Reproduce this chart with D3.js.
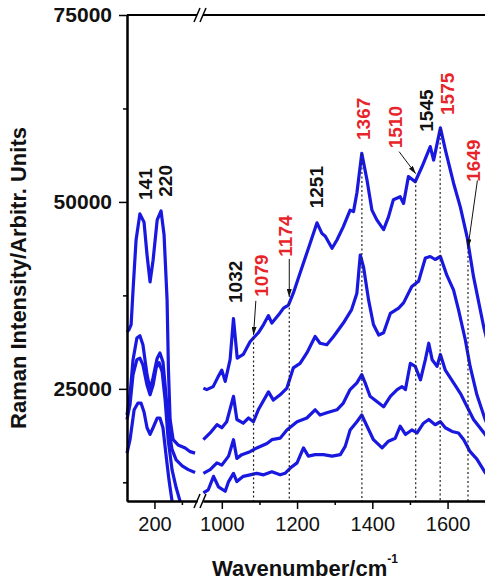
<!DOCTYPE html>
<html>
<head>
<meta charset="utf-8">
<script src="https://cdn.jsdelivr.net/npm/d3@7"></script>
<style>
  body { margin: 0; background: #fff; }
  svg text { font-family: Arial, "Liberation Sans", sans-serif; }
</style>
</head>
<body>
<svg id="main" width="485" height="582"></svg>
<script>
const width = 485
const height = 582

// low wavenumber panel, [wavenumber, intensity]
const lowA = [[100,32600],[107,32900],[115,33600],[122,38200],[133,44900],[147,48400],[162,47300],[173,42900],[184,39300],[195,42200],[210,47600],[224,48800],[235,45600],[246,36900],[251,27500],[257,20900],[268,18200],[286,17500],[312,17100],[330,16600],[348,16400]]
const lowB = [[100,21500],[111,24200],[122,28900],[136,31800],[147,32100],[158,30900],[173,26900],[184,24900],[195,26500],[210,29100],[220,29800],[231,28600],[242,24200],[253,19500],[264,16900],[279,15500],[301,14700],[323,14200],[348,13800]]
const lowC = [[100,20900],[111,22900],[122,26900],[136,28900],[147,29100],[158,28200],[173,25500],[184,24200],[195,25500],[206,27800],[217,28500],[228,27300],[239,23500],[250,18200],[264,14200],[279,11800],[293,10000],[308,8200]]
const lowD = [[100,16400],[111,18200],[126,22200],[140,23100],[151,23100],[162,21900],[173,19800],[184,18900],[195,19800],[210,21100],[220,21100],[231,19800],[242,16200],[253,12800],[264,10000],[275,7500]]

// high wavenumber panel
const highA = [[951,25100],[960,24900],[977,25300],[990,26600],[1000,27500],[1009,26000],[1022,28900],[1031,34400],[1041,29100],[1057,29600],[1075,31300],[1084,31800],[1097,32500],[1111,33600],[1124,34800],[1133,33800],[1151,34900],[1164,35800],[1177,36200],[1190,37800],[1208,40500],[1235,44500],[1253,47200],[1266,45800],[1275,45400],[1293,43800],[1306,44900],[1323,46700],[1341,48900],[1350,48700],[1359,51200],[1372,56500],[1386,52900],[1399,48900],[1412,47600],[1430,46300],[1443,48000],[1456,50300],[1474,50700],[1483,49800],[1496,53400],[1514,52700],[1532,54700],[1554,57400],[1563,55600],[1581,59900],[1594,57000],[1616,52500],[1634,49300],[1652,45300],[1669,40000],[1696,33300],[1720,28500]]
const highB = [[951,18200],[969,19100],[987,20200],[1000,19800],[1013,20600],[1031,24000],[1040,20900],[1057,20400],[1071,21100],[1084,20600],[1097,22200],[1124,24600],[1137,23500],[1155,24200],[1173,25100],[1190,27800],[1208,28400],[1226,29800],[1248,32000],[1261,31100],[1279,30900],[1297,32000],[1323,33800],[1345,35600],[1359,37800],[1368,42900],[1377,41200],[1390,36900],[1403,33600],[1417,32200],[1430,32500],[1448,35100],[1470,35800],[1483,36500],[1505,38700],[1523,39400],[1541,42500],[1554,42700],[1567,42300],[1581,42700],[1598,40200],[1616,38200],[1629,35600],[1647,31600],[1660,28000],[1678,24200],[1700,20900],[1720,18500]]
const highC = [[951,13700],[969,14200],[987,15100],[1000,14800],[1018,16000],[1031,18200],[1040,15700],[1053,16200],[1075,16600],[1093,17100],[1120,17700],[1133,18200],[1155,18400],[1173,19500],[1200,20600],[1226,21100],[1248,22200],[1261,21500],[1279,21800],[1306,22200],[1323,23100],[1341,24900],[1359,25800],[1372,26900],[1381,25800],[1394,24000],[1412,23300],[1430,22600],[1448,24000],[1466,24900],[1479,25300],[1488,24900],[1501,28400],[1514,28000],[1528,26200],[1541,28900],[1550,31100],[1559,28900],[1572,28000],[1581,29600],[1594,27500],[1616,25800],[1634,24400],[1652,22600],[1669,20900],[1700,18900],[1720,17500]]
const highD = [[951,11100],[964,11500],[978,13300],[991,11900],[1009,11300],[1018,12600],[1031,13700],[1040,12600],[1057,13300],[1075,13500],[1093,13700],[1111,13500],[1133,13900],[1155,13500],[1168,13700],[1182,14400],[1200,15100],[1217,17100],[1230,16000],[1248,16200],[1270,16200],[1293,16000],[1315,16200],[1328,17300],[1341,19500],[1359,20600],[1372,21500],[1386,20000],[1403,18200],[1426,17100],[1443,18000],[1461,18400],[1474,20000],[1488,18900],[1505,19500],[1519,19100],[1536,20400],[1550,20900],[1567,20200],[1581,20600],[1594,19800],[1612,19300],[1629,19100],[1643,18200],[1660,16600],[1678,15600],[1700,13800],[1720,12800]]

const peakWn = [141, 220, 1032, 1079, 1174, 1251, 1367, 1510, 1545, 1575, 1649]
const peakRed = [false, false, false, true, true, false, true, true, false, true, true]

const yTicks = [25000, 50000, 75000]
const yMinor = [12500, 37500, 62500]
const lowTicks = [200]
const lowMinor = [300]
const highTicks = [1000, 1200, 1400, 1600]
const highMinor = [1100, 1300, 1500, 1700]

// label placement (px): dx from peak position, bottom of the rotated label
const labelLayout = {
  141: {dx: 7.5, bottom: 200}, 220: {dx: 5.8, bottom: 196.7},
  1032: {dx: 1.2, bottom: 303}, 1079: {dx: 10.2, bottom: 296.7},
  1174: {dx: -2.3, bottom: 256.7}, 1251: {dx: 0.4, bottom: 208.3},
  1367: {dx: 3.4, bottom: 140}, 1510: {dx: -18.7, bottom: 148.3},
  1545: {dx: -0.2, bottom: 131.7}, 1575: {dx: 8.8, bottom: 115},
  1649: {dx: 7.3, bottom: 181.7}
}
const arrowLayout = {
  1079: {sx: 2.3, sy: -37, ty: -3},
  1174: {sx: 0, sy: -44, ty: -6},
  1510: {sx: -16.6, sy: -29, ty: -7},
  1649: {sx: 9.4, sy: -62, ty: 4.7}
}

const blue = '#1818e0'
const red = '#e8242a'

const svg = d3.select('#main')
const defs = svg.append('defs')

const xL = d3.scaleLinear().domain([100, 355]).range([127, 197])
const xR = d3.scaleLinear().domain([950, 1750]).range([203, 504])
const y = d3.scaleLinear().domain([10000, 75000]).range([501, 15])

defs.append('clipPath').attr('id', 'clipL')
  .append('rect').attr('x', 120).attr('y', 0).attr('width', 78).attr('height', 501)
defs.append('clipPath').attr('id', 'clipR')
  .append('rect').attr('x', 200).attr('y', 0).attr('width', 320).attr('height', 501)
defs.append('marker').attr('id', 'arrow')
  .attr('viewBox', '0 0 10 10').attr('refX', 10).attr('refY', 5)
  .attr('markerWidth', 8).attr('markerHeight', 5).attr('markerUnits', 'userSpaceOnUse')
  .attr('orient', 'auto').attr('preserveAspectRatio', 'none')
  .append('path').attr('d', 'M0,0 L10,5 L0,10 Z').attr('fill', '#111')

function valueAt(series, w) {
  const i = Math.max(1, Math.min(series.length - 1, d3.bisector(d => d[0]).left(series, w)))
  const a = series[i - 1], b = series[i]
  return a[1] + (w - a[0]) / (b[0] - a[0]) * (b[1] - a[1])
}

// spectra
const lineL = d3.line().x(d => xL(d[0])).y(d => y(d[1]))
const lineR = d3.line().x(d => xR(d[0])).y(d => y(d[1]))
svg.append('g').attr('clip-path', 'url(#clipL)')
  .selectAll('path').data([lowA, lowB, lowC, lowD]).join('path')
  .attr('d', lineL).attr('fill', 'none').attr('stroke', blue)
  .attr('stroke-width', 3.2).attr('stroke-linejoin', 'round')
svg.append('g').attr('clip-path', 'url(#clipR)')
  .selectAll('path').data([highA, highB, highC, highD]).join('path')
  .attr('d', lineR).attr('fill', 'none').attr('stroke', blue)
  .attr('stroke-width', 3.2).attr('stroke-linejoin', 'round')

// dotted guides + arrows for the marked bands
const guideShift = 2
const notes = svg.append('g')
peakWn.forEach((w, i) => {
  if (w < 900) return
  const gx = xR(w) + guideShift
  const cy = y(valueAt(highA, xR.invert(gx)))
  if (peakRed[i]) {
    notes.append('line')
      .attr('x1', gx).attr('x2', gx).attr('y1', cy).attr('y2', y(10000))
      .attr('stroke', '#222').attr('stroke-width', 1.2).attr('stroke-dasharray', '2,2.5')
  }
  const a = arrowLayout[w]
  if (a) {
    notes.append('line')
      .attr('x1', gx + a.sx).attr('y1', cy + a.sy)
      .attr('x2', gx).attr('y2', cy + a.ty)
      .attr('stroke', '#111').attr('stroke-width', 1)
      .attr('marker-end', 'url(#arrow)')
  }
})

// band labels
peakWn.forEach((w, i) => {
  const L = labelLayout[w]
  const px = (w < 900 ? xL(w) : xR(w)) + L.dx
  svg.append('text')
    .attr('transform', `translate(${px},${L.bottom}) rotate(-90)`)
    .attr('dy', '0.35em')
    .attr('font-size', 19).attr('font-weight', 'bold')
    .attr('fill', peakRed[i] ? red : '#111')
    .text(w)
})

// axes
function styleAxis(g, fontSize, bold) {
  g.select('.domain').attr('stroke', '#000').attr('stroke-width', 2)
  g.selectAll('.tick line').attr('stroke', '#000').attr('stroke-width', 1.5)
  g.selectAll('.tick text').attr('font-size', fontSize)
    .attr('font-weight', bold ? 'bold' : 'normal').attr('fill', '#111')
    .style('font-family', 'Arial, "Liberation Sans", sans-serif')
}

svg.append('g').attr('transform', 'translate(127,0)')
  .call(d3.axisLeft(y).tickValues(yTicks).tickSize(8).tickSizeOuter(0).tickPadding(7).tickFormat(d3.format('d')))
  .call(g => styleAxis(g, 21, true))
svg.append('g').attr('transform', 'translate(127,0)')
  .call(d3.axisLeft(y).tickValues(yMinor).tickSize(4).tickSizeOuter(0).tickFormat(''))
  .call(g => styleAxis(g, 21, true))

const bottomY = y(10000)
const topY = y(75000)
const lowRange = xL.range(), highRange = xR.range()

svg.append('g').attr('transform', `translate(0,${bottomY})`)
  .call(d3.axisBottom(xL).tickValues(lowTicks).tickSize(8).tickSizeOuter(0).tickPadding(8).tickFormat(d3.format('d')))
  .call(g => styleAxis(g, 20, false))
svg.append('g').attr('transform', `translate(0,${bottomY})`)
  .call(d3.axisBottom(xL).tickValues(lowMinor).tickSize(4).tickSizeOuter(0).tickFormat(''))
  .call(g => styleAxis(g, 20, false))
svg.append('g').attr('transform', `translate(0,${bottomY})`)
  .call(d3.axisBottom(xR).tickValues(highTicks).tickSize(8).tickSizeOuter(0).tickPadding(8).tickFormat(d3.format('d')))
  .call(g => styleAxis(g, 20, false))
svg.append('g').attr('transform', `translate(0,${bottomY})`)
  .call(d3.axisBottom(xR).tickValues(highMinor).tickSize(4).tickSizeOuter(0).tickFormat(''))
  .call(g => styleAxis(g, 20, false))

// top frame
const frame = svg.append('g').attr('stroke', '#000').attr('stroke-width', 2)
frame.append('line').attr('x1', lowRange[0]).attr('x2', lowRange[1]).attr('y1', topY).attr('y2', topY)
frame.append('line').attr('x1', highRange[0]).attr('x2', highRange[1]).attr('y1', topY).attr('y2', topY)

// axis break marks
;[topY, bottomY].forEach(by => {
  ;[lowRange[1], highRange[0]].forEach(bx => {
    frame.append('line')
      .attr('x1', bx - 3).attr('y1', by + 7).attr('x2', bx + 3).attr('y2', by - 7)
      .attr('stroke-width', 1.5)
  })
})

// axis titles
svg.append('text')
  .attr('transform', `translate(18,${(topY + bottomY) / 2 + 20}) rotate(-90)`)
  .attr('text-anchor', 'middle').attr('dy', '0.35em')
  .attr('font-size', 22).attr('font-weight', 'bold').attr('fill', '#111')
  .text('Raman Intensity/Arbitr. Units')

const xt = svg.append('text')
  .attr('x', 212).attr('y', 576)
  .attr('font-size', 22).attr('font-weight', 'bold').attr('fill', '#111')
  .text('Wavenumber/cm')
xt.append('tspan').attr('dy', -13).attr('font-size', 12).text('-1')
</script>
</body>
</html>
